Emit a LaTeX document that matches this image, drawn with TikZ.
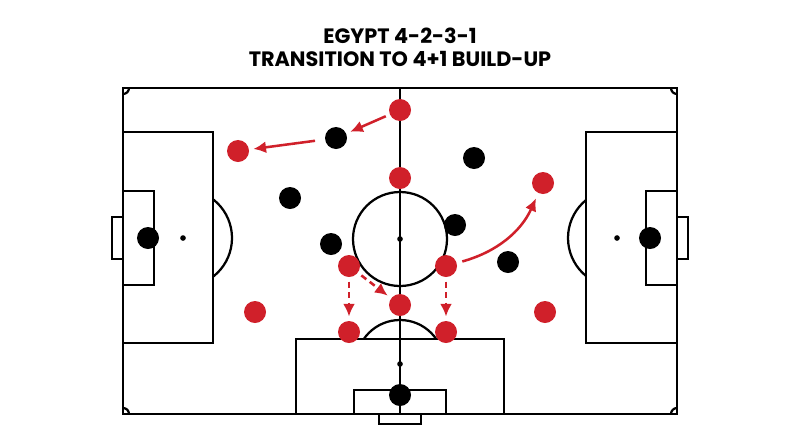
\documentclass[tikz,border=0pt]{standalone}
\usepackage{fontspec}
\setmainfont{Poppins}
\usetikzlibrary{arrows.meta}
\definecolor{egyred}{HTML}{D0202A}

\begin{document}
\begin{tikzpicture}[x=0.025cm,y=-0.025cm,
  pitch/.style={line width=2pt},
  thinline/.style={line width=1.6pt},
  redp/.style={circle,fill=egyred,minimum size=0.55cm,inner sep=0pt},
  blackp/.style={circle,fill=black,minimum size=0.55cm,inner sep=0pt},
  run/.style={egyred,line width=1.8pt,-{Latex[length=9pt,width=8.5pt]},shorten <=3pt,shorten >=3pt},
  rundash/.style={run,dash pattern=on 4.5pt off 3pt},
  title/.style={font=\bfseries\fontsize{14.8}{17}\selectfont,anchor=base}]
\useasboundingbox (0,0) rectangle (800,447);

%Title
\node[title] (title1) at (400,43) {EGYPT 4-2-3-1};
\node[title] (title2) at (400,66) {TRANSITION TO 4+1 BUILD-UP};

%Pitch
\draw[pitch] (123,88) rectangle (677,414);
\draw[pitch] (400,88) -- (400,414);
\draw[thinline] (400,239) circle[radius=47];
\fill (400,239) circle[radius=2pt];

\draw[pitch] (123,132) rectangle (213,343);
\draw[pitch] (123,191) rectangle (154,285);
\draw[pitch] (112,217) rectangle (123,259);
\fill (183,238) circle[radius=2pt];

\draw[pitch] (586,132) rectangle (677,343);
\draw[pitch] (646,191) rectangle (677,285);
\draw[pitch] (677,217) rectangle (688,259);
\fill (617,238) circle[radius=2pt];

\draw[pitch] (296,339) rectangle (504,414);
\draw[pitch] (354,390) rectangle (446,414);
\draw[pitch] (379,414) rectangle (421,424);
\fill (400,364) circle[radius=2pt];

\begin{scope}
\clip (213,88) rectangle (400,414);
\draw[thinline] (183,238) circle[radius=49];
\end{scope}
\begin{scope}
\clip (400,88) rectangle (586,414);
\draw[thinline] (617,238) circle[radius=49];
\end{scope}
\begin{scope}
\clip (296,290) rectangle (504,339);
\draw[thinline] (400,364) circle[radius=44];
\end{scope}
\begin{scope}
\clip (123,88) rectangle (677,414);
\foreach \cx/\cy in {123/88,677/88,123/414,677/414}
  \draw[thinline] (\cx,\cy) circle[radius=6];
\end{scope}

%Nodes
\node[redp] (nodeR1) at (400,110) {};
\node[redp] (nodeR2) at (238,151) {};
\node[redp] (nodeR3) at (400,178) {};
\node[redp] (nodeR4) at (543,183) {};
\node[redp] (nodeR5) at (349,266) {};
\node[redp] (nodeR6) at (446,266) {};
\node[redp] (nodeR7) at (400,305) {};
\node[redp] (nodeR8) at (349,332) {};
\node[redp] (nodeR9) at (446,332) {};
\node[redp] (nodeR10) at (255,312) {};
\node[redp] (nodeR11) at (545,312) {};

\node[blackp] (nodeB1) at (336,138) {};
\node[blackp] (nodeB2) at (290,198) {};
\node[blackp] (nodeB3) at (331,244) {};
\node[blackp] (nodeB4) at (474,158) {};
\node[blackp] (nodeB5) at (455,225) {};
\node[blackp] (nodeB6) at (508,262) {};
\node[blackp] (nodeB7) at (148,238) {};
\node[blackp] (nodeB8) at (650,238) {};
\node[blackp] (nodeB9) at (400,395) {};

%Lines
\draw[run] (nodeR1) -- (nodeB1);
\draw[run, shorten <=7pt] (nodeB1) -- (nodeR2);
\draw[run, shorten <=4pt, shorten >=4pt] (nodeR6) to[bend right=25] (nodeR4);

\draw[rundash] (nodeR5) -- (nodeR8);
\draw[rundash] (nodeR5) -- (nodeR7);
\draw[rundash] (nodeR6) -- (nodeR9);
\end{tikzpicture}
\end{document}
